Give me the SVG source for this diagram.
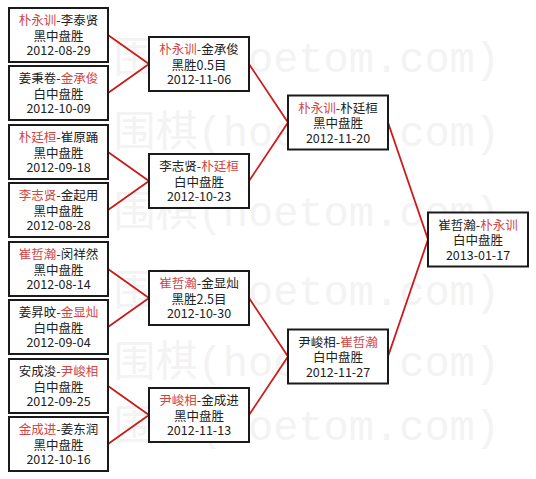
<svg xmlns="http://www.w3.org/2000/svg" width="536" height="479" viewBox="0 0 536 479">
<style>
.bg{fill:#ffffff}
.wm{font-family:"Liberation Mono","Noto Sans CJK SC",monospace;font-size:42px;fill:#f3f3f3}
.box{fill:#ffffff;stroke:#1a1a1a;stroke-width:2}
.t{font-family:"Noto Sans CJK SC","Noto Sans",sans-serif;font-size:12.5px;fill:#222222;text-anchor:middle}
.r{fill:#d04646}
.c{stroke:#cc1a1a;stroke-width:1.8;fill:none}
</style>
<rect class="bg" x="0" y="0" width="536" height="479"/>
<g id="watermark">
<text class="wm" x="500" y="72" text-anchor="end">围棋(hoetom.com)</text>
<text class="wm" x="500" y="146" text-anchor="end">围棋(hoetom.com)</text>
<text class="wm" x="500" y="226" text-anchor="end">围棋(hoetom.com)</text>
<text class="wm" x="500" y="305" text-anchor="end">围棋(hoetom.com)</text>
<text class="wm" x="500" y="376" text-anchor="end">围棋(hoetom.com)</text>
<text class="wm" x="500" y="440" text-anchor="end">围棋(hoetom.com)</text>
</g>
<g id="connectors">
<path class="c" d="M108,35 L149,64 L108,93"/>
<path class="c" d="M108,152 L149,181 L108,210"/>
<path class="c" d="M108,269 L149,298 L108,327"/>
<path class="c" d="M108,386 L149,415 L108,444"/>
<path class="c" d="M249,64 L288,122.5 L249,181"/>
<path class="c" d="M249,298 L288,356.5 L249,415"/>
<path class="c" d="M388,122.5 L428,239.5 L388,356.5"/>
</g>
<g id="n1"><rect class="box" x="9" y="8" width="99" height="54"/>
<text class="t" x="58.5" y="25"><tspan class="r">朴永训</tspan>-李泰贤</text>
<text class="t" x="58.5" y="40.5">黑中盘胜</text>
<text class="t" x="58.5" y="55">2012-08-29</text></g>
<g id="n2"><rect class="box" x="9" y="66" width="99" height="54"/>
<text class="t" x="58.5" y="83">姜秉卷-<tspan class="r">金承俊</tspan></text>
<text class="t" x="58.5" y="98.5">白中盘胜</text>
<text class="t" x="58.5" y="113">2012-10-09</text></g>
<g id="n3"><rect class="box" x="9" y="125" width="99" height="54"/>
<text class="t" x="58.5" y="142"><tspan class="r">朴廷桓</tspan>-崔原踊</text>
<text class="t" x="58.5" y="157.5">黑中盘胜</text>
<text class="t" x="58.5" y="172">2012-09-18</text></g>
<g id="n4"><rect class="box" x="9" y="183" width="99" height="54"/>
<text class="t" x="58.5" y="200"><tspan class="r">李志贤</tspan>-金起用</text>
<text class="t" x="58.5" y="215.5">黑中盘胜</text>
<text class="t" x="58.5" y="230">2012-08-28</text></g>
<g id="n5"><rect class="box" x="9" y="242" width="99" height="54"/>
<text class="t" x="58.5" y="259"><tspan class="r">崔哲瀚</tspan>-闵祥然</text>
<text class="t" x="58.5" y="274.5">黑中盘胜</text>
<text class="t" x="58.5" y="289">2012-08-14</text></g>
<g id="n6"><rect class="box" x="9" y="300" width="99" height="54"/>
<text class="t" x="58.5" y="317">姜昇旼-<tspan class="r">金显灿</tspan></text>
<text class="t" x="58.5" y="332.5">白中盘胜</text>
<text class="t" x="58.5" y="347">2012-09-04</text></g>
<g id="n7"><rect class="box" x="9" y="359" width="99" height="54"/>
<text class="t" x="58.5" y="376">安成浚-<tspan class="r">尹峻相</tspan></text>
<text class="t" x="58.5" y="391.5">白中盘胜</text>
<text class="t" x="58.5" y="406">2012-09-25</text></g>
<g id="n8"><rect class="box" x="9" y="417" width="99" height="54"/>
<text class="t" x="58.5" y="434"><tspan class="r">金成进</tspan>-姜东润</text>
<text class="t" x="58.5" y="449.5">黑中盘胜</text>
<text class="t" x="58.5" y="464">2012-10-16</text></g>
<g id="n9"><rect class="box" x="149" y="37" width="100" height="54"/>
<text class="t" x="199" y="54"><tspan class="r">朴永训</tspan>-金承俊</text>
<text class="t" x="199" y="69.5">黑胜0.5目</text>
<text class="t" x="199" y="84">2012-11-06</text></g>
<g id="n10"><rect class="box" x="149" y="154" width="100" height="54"/>
<text class="t" x="199" y="171">李志贤-<tspan class="r">朴廷桓</tspan></text>
<text class="t" x="199" y="186.5">白中盘胜</text>
<text class="t" x="199" y="201">2012-10-23</text></g>
<g id="n11"><rect class="box" x="149" y="271" width="100" height="54"/>
<text class="t" x="199" y="288"><tspan class="r">崔哲瀚</tspan>-金显灿</text>
<text class="t" x="199" y="303.5">黑胜2.5目</text>
<text class="t" x="199" y="318">2012-10-30</text></g>
<g id="n12"><rect class="box" x="149" y="388" width="100" height="54"/>
<text class="t" x="199" y="405"><tspan class="r">尹峻相</tspan>-金成进</text>
<text class="t" x="199" y="420.5">黑中盘胜</text>
<text class="t" x="199" y="435">2012-11-13</text></g>
<g id="n13"><rect class="box" x="288" y="95.5" width="100" height="54"/>
<text class="t" x="338" y="112.5"><tspan class="r">朴永训</tspan>-朴廷桓</text>
<text class="t" x="338" y="128">黑中盘胜</text>
<text class="t" x="338" y="142.5">2012-11-20</text></g>
<g id="n14"><rect class="box" x="288" y="329.5" width="100" height="54"/>
<text class="t" x="338" y="346.5">尹峻相-<tspan class="r">崔哲瀚</tspan></text>
<text class="t" x="338" y="362">白中盘胜</text>
<text class="t" x="338" y="376.5">2012-11-27</text></g>
<g id="n15"><rect class="box" x="428" y="212.5" width="100" height="54"/>
<text class="t" x="478" y="229.5">崔哲瀚-<tspan class="r">朴永训</tspan></text>
<text class="t" x="478" y="245">白中盘胜</text>
<text class="t" x="478" y="259.5">2013-01-17</text></g>
</svg>
